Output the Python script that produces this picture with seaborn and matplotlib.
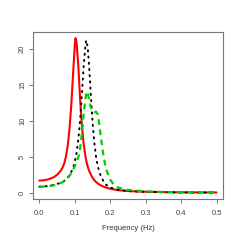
import pandas as pd
import matplotlib

matplotlib.use('Agg')
import matplotlib.pyplot as plt
import seaborn as sns

sns.set_style('white')
plt.rcParams['font.family'] = ['Liberation Sans', 'DejaVu Sans']

# frequency grid (Hz) shared by the three spectra
freq = [0, 0.01, 0.02, 0.03, 0.04, 0.05, 0.06, 0.065, 0.07, 0.075, 0.08, 0.085,
        0.09, 0.095, 0.1, 0.102, 0.105, 0.11, 0.115, 0.12, 0.125, 0.13, 0.132,
        0.134, 0.137, 0.14, 0.145, 0.15, 0.155, 0.16, 0.165, 0.17, 0.175, 0.18,
        0.185, 0.19, 0.2, 0.21, 0.22, 0.23, 0.25, 0.27, 0.3, 0.35, 0.4, 0.45, 0.5]

spec_red = [1.75, 1.78, 1.85, 2.0, 2.2, 2.55, 3.1, 3.5, 4.1, 5.1, 6.6, 8.9,
            12.2, 16.5, 20.6, 21.5, 20.9, 17.5, 13.0, 9.3, 6.8, 5.1, 4.6,
            4.1, 3.6, 3.15, 2.6, 2.15, 1.8, 1.55, 1.35, 1.18, 1.05, 0.93,
            0.83, 0.75, 0.62, 0.52, 0.44, 0.38, 0.3, 0.25, 0.2, 0.15, 0.12, 0.11, 0.1]

spec_black = [0.9, 0.92, 0.97, 1.05, 1.15, 1.28, 1.45, 1.55, 1.7, 1.9, 2.15, 2.5,
              2.95, 3.5, 4.3, 5.0, 5.6, 7.5, 10.2, 13.8, 17.6, 20.5, 21.2,
              21.0, 19.8, 17.8, 13.8, 9.9, 7.0, 5.0, 3.7, 2.8, 2.2, 1.75,
              1.35, 1.1, 0.8, 0.62, 0.5, 0.41, 0.3, 0.24, 0.18, 0.13, 0.1, 0.09, 0.08]

spec_green = [0.9, 0.91, 0.94, 1.0, 1.08, 1.2, 1.4, 1.52, 1.68, 1.88, 2.1, 2.4,
              2.8, 3.25, 3.75, 3.95, 4.3, 5.0, 6.2, 8.3, 11.0, 13.1, 13.8,
              14.1, 13.8, 13.0, 11.9, 11.3, 11.2, 11.3, 10.9, 9.2, 7.2, 5.5,
              4.1, 3.1, 1.85, 1.2, 0.85, 0.65, 0.45, 0.35, 0.25, 0.17, 0.13, 0.11, 0.1]

df = pd.DataFrame({'freq': freq, 'red': spec_red, 'black': spec_black, 'green': spec_green})

fig = plt.figure(figsize=(2.4, 2.4), dpi=100)
ax = fig.add_axes([0.1375, 0.171, 0.7915, 0.696])

sns.lineplot(data=df, x='freq', y='red', ax=ax, color='#FF0000', lw=1.5)
sns.lineplot(data=df, x='freq', y='black', ax=ax, color='black', lw=1.4)
ax.lines[-1].set_dashes((0.6, 2.6))
ax.lines[-1].set_dash_capstyle('round')
sns.lineplot(data=df, x='freq', y='green', ax=ax, color='#00CD00', lw=1.6)
ax.lines[-1].set_dashes((2.6, 2.0))

ax.set_xlim(-0.018, 0.518)
ax.set_ylim(-0.8, 22.36)
ax.set_xticks([0.0, 0.1, 0.2, 0.3, 0.4, 0.5])
ax.set_xticklabels(['0.0', '0.1', '0.2', '0.3', '0.4', '0.5'])
ax.set_yticks([0, 5, 10, 15, 20])
ax.set_yticklabels(['0', '5', '10', '15', '20'], rotation=90, va='center')
ax.set_xlabel('Frequency (Hz)', fontsize=5.5, color='#333333', labelpad=6)
ax.set_ylabel('')

for s in ax.spines.values():
    s.set_color('#777777')
    s.set_linewidth(0.8)
ax.tick_params(axis='both', length=3, width=0.7, color='#777777',
               labelsize=5.5, labelcolor='#444444', direction='out')
ax.tick_params(axis='x', pad=5, bottom=True)
ax.tick_params(axis='y', pad=2, left=True)

fig.savefig('out.png', dpi=100)
